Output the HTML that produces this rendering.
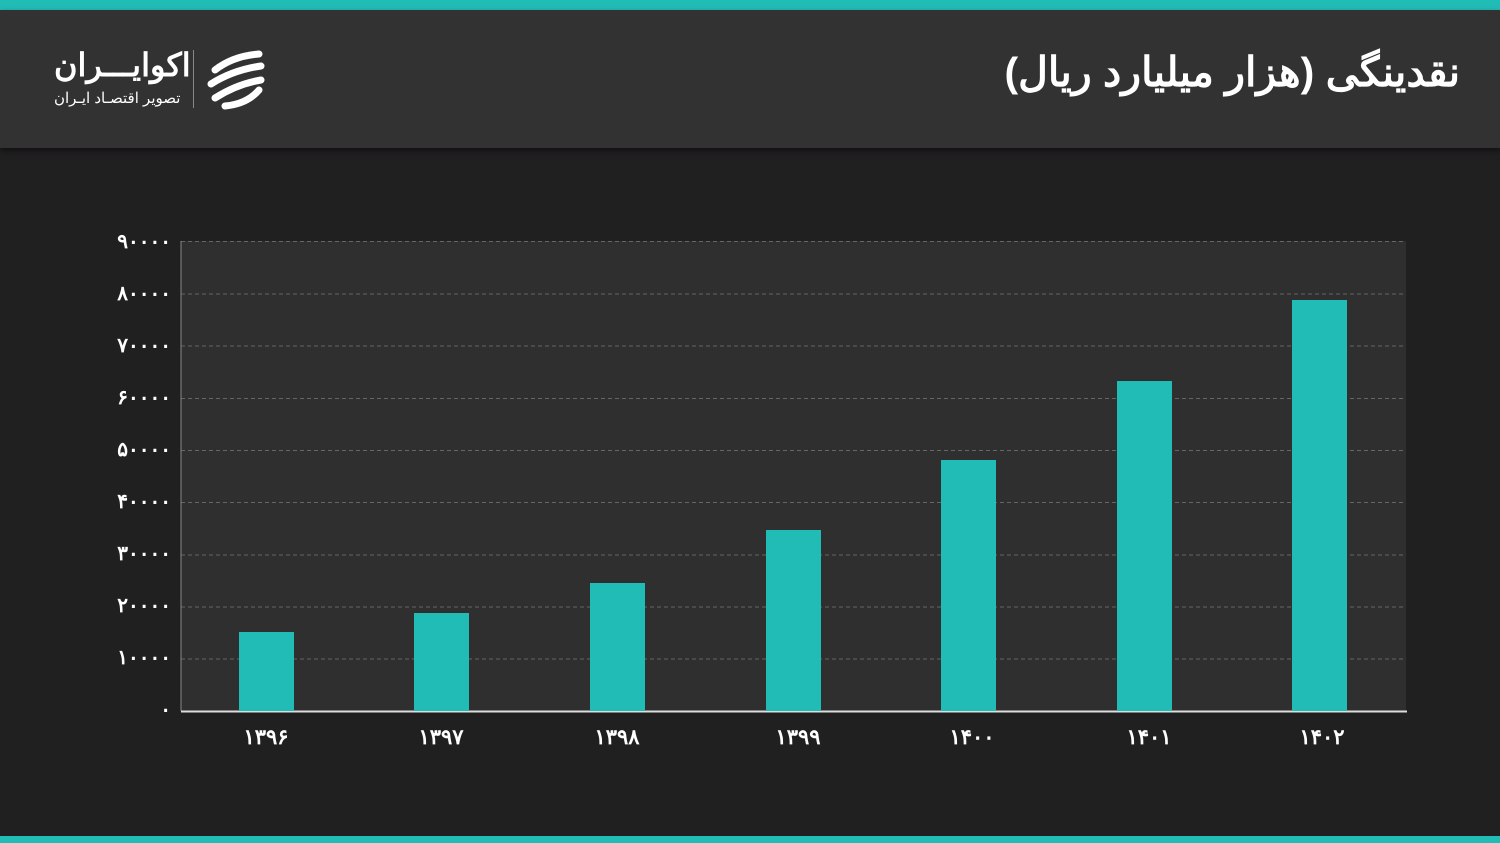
<!DOCTYPE html>
<html><head><meta charset="utf-8"><style>
body{margin:0;width:1500px;height:843px;background:#212021;overflow:hidden;position:relative;font-family:"Liberation Sans","Noto Sans CJK SC",sans-serif;}
.top{position:absolute;left:0;top:0;width:1500px;height:10px;background:#22bcb7}
.hdr{position:absolute;left:0;top:10px;width:1500px;height:138px;background:#333233;box-shadow:0 3px 6px rgba(0,0,0,.5)}
.bot{position:absolute;left:0;top:836px;width:1500px;height:7px;background:#22bcb7}
.t{position:absolute;color:#fff;direction:rtl;white-space:nowrap}
</style></head><body>
<div class="top"></div><div class="hdr"></div><div class="bot"></div>
<div class="t" style="right:40px;top:48px;font-size:41px;font-weight:bold">نقدینگی (هزار میلیارد ریال)</div>
<div class="t" style="left:54px;top:46px;font-size:32px;font-weight:bold;direction:rtl">اکوایـــران</div>
<div class="t" style="left:54px;top:89px;font-size:15px">تصویر اقتصـاد ایـران</div>
<div style="position:absolute;left:193px;top:50px;width:1px;height:58px;background:#888"></div>
<svg style="position:absolute;left:203px;top:48px" width="64" height="64" viewBox="0 0 64 64">
<g fill="none" stroke="#fff" stroke-width="7" stroke-linecap="round">
<path d="M12 22 Q30 8 56 6"/><path d="M8 36 Q30 22 58 18"/><path d="M12 50 Q34 36 58 32"/><path d="M22 58 Q44 56 56 42"/></g></svg>
<svg style="position:absolute;left:0;top:0" width="1500" height="843">
<rect x="181" y="241" width="1225" height="470" fill="#302f30"/>
<g stroke="#666" stroke-dasharray="4,3" stroke-width="1">
<line x1="181" x2="1406" y1="241.5" y2="241.5"/><line x1="181" x2="1406" y1="294" y2="294"/><line x1="181" x2="1406" y1="346" y2="346"/><line x1="181" x2="1406" y1="398.5" y2="398.5"/><line x1="181" x2="1406" y1="450.5" y2="450.5"/><line x1="181" x2="1406" y1="502.5" y2="502.5"/><line x1="181" x2="1406" y1="555" y2="555"/><line x1="181" x2="1406" y1="607" y2="607"/><line x1="181" x2="1406" y1="659" y2="659"/></g>
<line x1="181" x2="181" y1="241" y2="711" stroke="#888"/>
<line x1="181" x2="1407" y1="711.5" y2="711.5" stroke="#ddd" stroke-width="2"/>
<g fill="#22bcb7">
<rect x="239" y="632" width="55" height="79"/><rect x="414" y="613" width="55" height="98"/><rect x="590" y="583" width="55" height="128"/><rect x="766" y="530" width="55" height="181"/><rect x="941" y="460" width="55" height="251"/><rect x="1117" y="381" width="55" height="330"/><rect x="1292" y="300" width="55" height="411"/></g>
<g fill="#fff" font-size="20" font-weight="bold" font-family="Liberation Sans, Noto Sans CJK SC, sans-serif" text-anchor="end">
<text x="171" y="248">۹۰۰۰۰</text><text x="171" y="300">۸۰۰۰۰</text><text x="171" y="352">۷۰۰۰۰</text><text x="171" y="404">۶۰۰۰۰</text><text x="171" y="456">۵۰۰۰۰</text><text x="171" y="508">۴۰۰۰۰</text><text x="171" y="560">۳۰۰۰۰</text><text x="171" y="612">۲۰۰۰۰</text><text x="171" y="664">۱۰۰۰۰</text><text x="171" y="716">۰</text></g>
<g fill="#fff" font-size="21" font-weight="bold" font-family="Liberation Sans, Noto Sans CJK SC, sans-serif" text-anchor="middle">
<text x="266" y="744">۱۳۹۶</text><text x="441" y="744">۱۳۹۷</text><text x="617" y="744">۱۳۹۸</text><text x="798" y="744">۱۳۹۹</text><text x="972" y="744">۱۴۰۰</text><text x="1149" y="744">۱۴۰۱</text><text x="1322" y="744">۱۴۰۲</text></g>
</svg>
</body></html>
